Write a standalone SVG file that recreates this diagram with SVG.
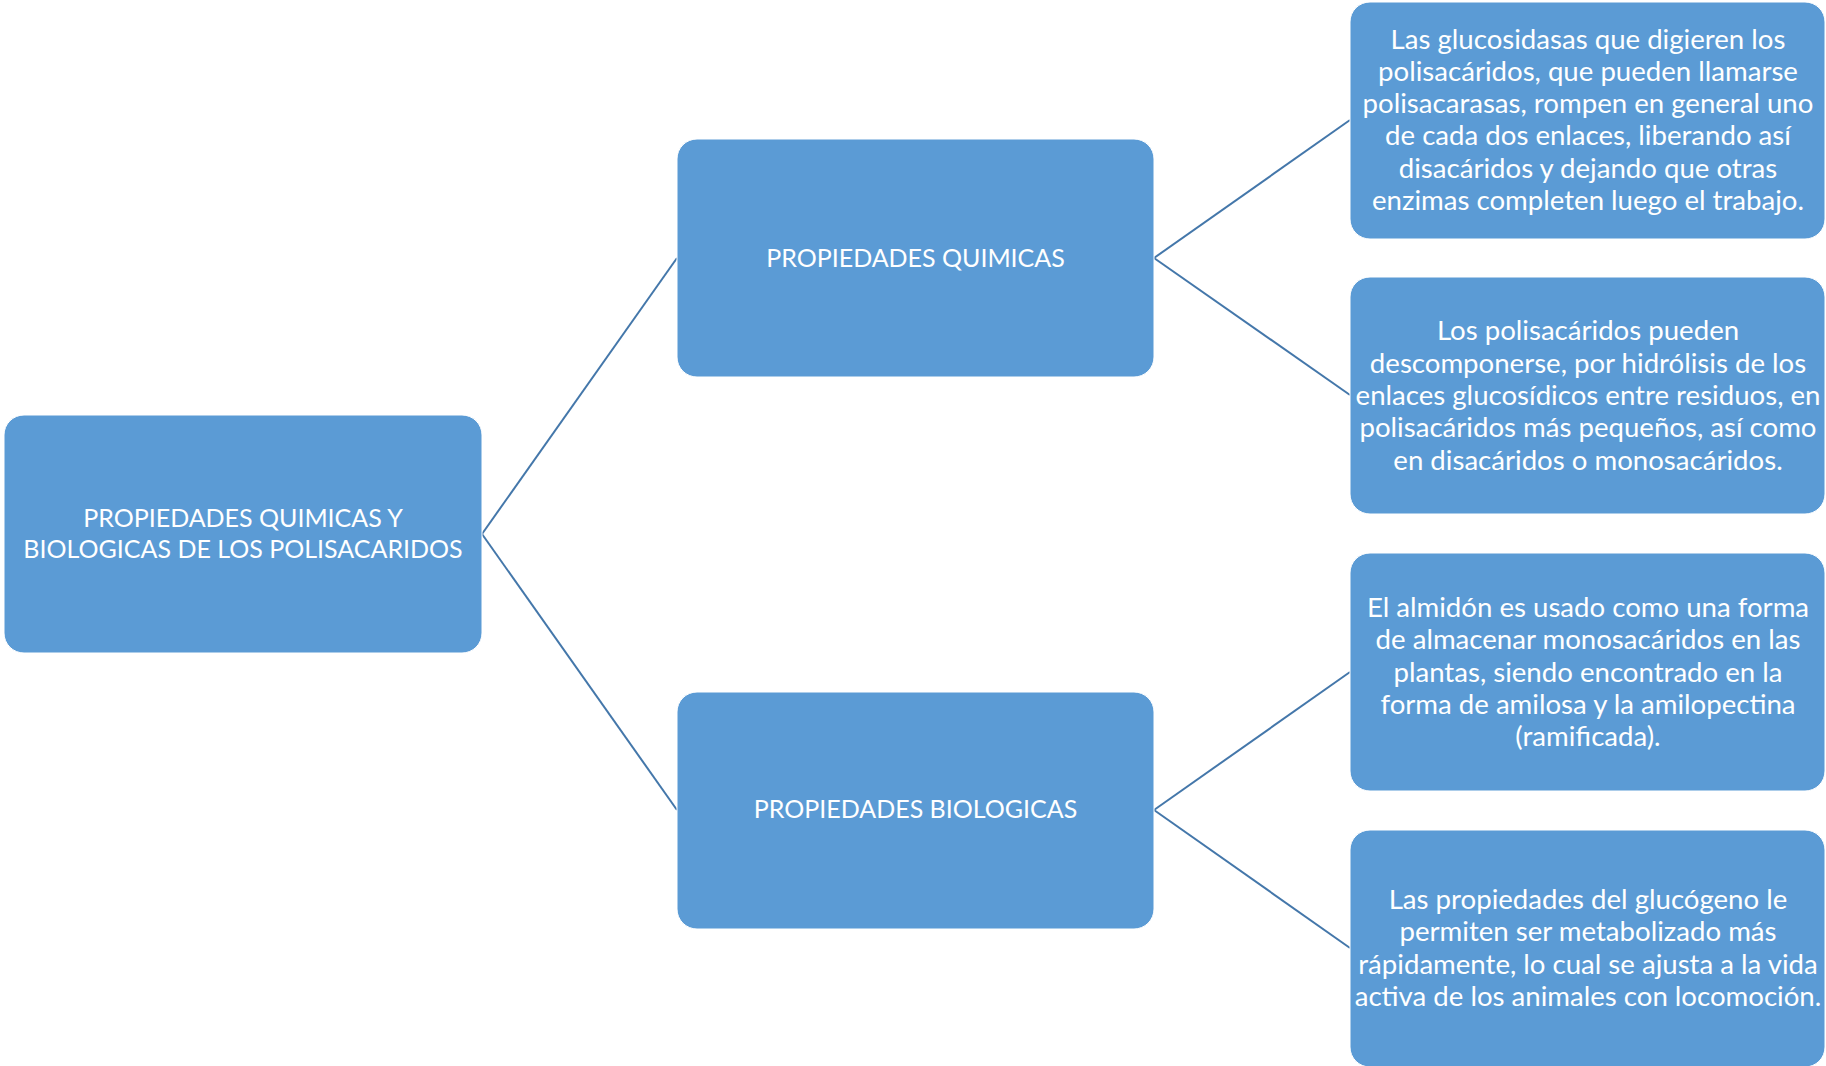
<svg xmlns="http://www.w3.org/2000/svg" width="1826" height="1066" viewBox="0 0 1826 1066">
<style>
.box{fill:#5B9BD5;stroke:#FFFFFF;stroke-width:1}
.t{font-family:Lato,"Open Sans","Liberation Sans",sans-serif;font-size:27.6px;fill:#FFFFFF;text-anchor:middle}
.h{font-family:Lato,"Open Sans","Liberation Sans",sans-serif;font-size:25px;fill:#FFFFFF;text-anchor:middle}
.c{stroke:#4477AA;stroke-width:2;fill:none}
</style>
<rect width="1826" height="1066" fill="#FFFFFF"/>
<g id="connectors">
<line class="c" x1="482" y1="534" x2="677" y2="258"/>
<line class="c" x1="482" y1="534" x2="677" y2="810"/>
<line class="c" x1="1154" y1="258" x2="1350" y2="120"/>
<line class="c" x1="1154" y1="258" x2="1350" y2="395"/>
<line class="c" x1="1154" y1="810" x2="1350" y2="672"/>
<line class="c" x1="1154" y1="810" x2="1350" y2="948"/>
</g>
<g id="root">
<rect class="box" x="4" y="415" width="478" height="238" rx="20"/>
<text class="h" x="243" y="527">PROPIEDADES QUIMICAS Y</text>
<text class="h" x="243" y="558">BIOLOGICAS DE LOS POLISACARIDOS</text>
</g>
<g id="quimicas">
<rect class="box" x="677" y="139" width="477" height="238" rx="20"/>
<text class="h" x="915.5" y="267">PROPIEDADES QUIMICAS</text>
</g>
<g id="biologicas">
<rect class="box" x="677" y="692" width="477" height="237" rx="20"/>
<text class="h" x="915.5" y="818">PROPIEDADES BIOLOGICAS</text>
</g>
<g id="q1">
<rect class="box" x="1350" y="2" width="475" height="237" rx="20"/>
<text class="t" x="1588" y="48.5">Las glucosidasas que digieren los</text>
<text class="t" x="1588" y="80.8">polisacáridos, que pueden llamarse</text>
<text class="t" x="1588" y="113.1">polisacarasas, rompen en general uno</text>
<text class="t" x="1588" y="145.4">de cada dos enlaces, liberando así</text>
<text class="t" x="1588" y="177.7">disacáridos y dejando que otras</text>
<text class="t" x="1588" y="210">enzimas completen luego el trabajo.</text>
</g>
<g id="q2">
<rect class="box" x="1350" y="277" width="475" height="237" rx="20"/>
<text class="t" x="1588" y="340.4">Los polisacáridos pueden</text>
<text class="t" x="1588" y="372.7">descomponerse, por hidrólisis de los</text>
<text class="t" x="1588" y="405">enlaces glucosídicos entre residuos, en</text>
<text class="t" x="1588" y="437.3">polisacáridos más pequeños, así como</text>
<text class="t" x="1588" y="469.6">en disacáridos o monosacáridos.</text>
</g>
<g id="b1">
<rect class="box" x="1350" y="553" width="475" height="238" rx="20"/>
<text class="t" x="1588" y="616.9">El almidón es usado como una forma</text>
<text class="t" x="1588" y="649.2">de almacenar monosacáridos en las</text>
<text class="t" x="1588" y="681.5">plantas, siendo encontrado en la</text>
<text class="t" x="1588" y="713.8">forma de amilosa y la amilopectina</text>
<text class="t" x="1588" y="746.1">(ramificada).</text>
</g>
<g id="b2">
<rect class="box" x="1350" y="830" width="475" height="237" rx="20"/>
<text class="t" x="1588" y="909.1">Las propiedades del glucógeno le</text>
<text class="t" x="1588" y="941.3">permiten ser metabolizado más</text>
<text class="t" x="1588" y="973.6">rápidamente, lo cual se ajusta a la vida</text>
<text class="t" x="1588" y="1005.9">activa de los animales con locomoción.</text>
</g>
</svg>
